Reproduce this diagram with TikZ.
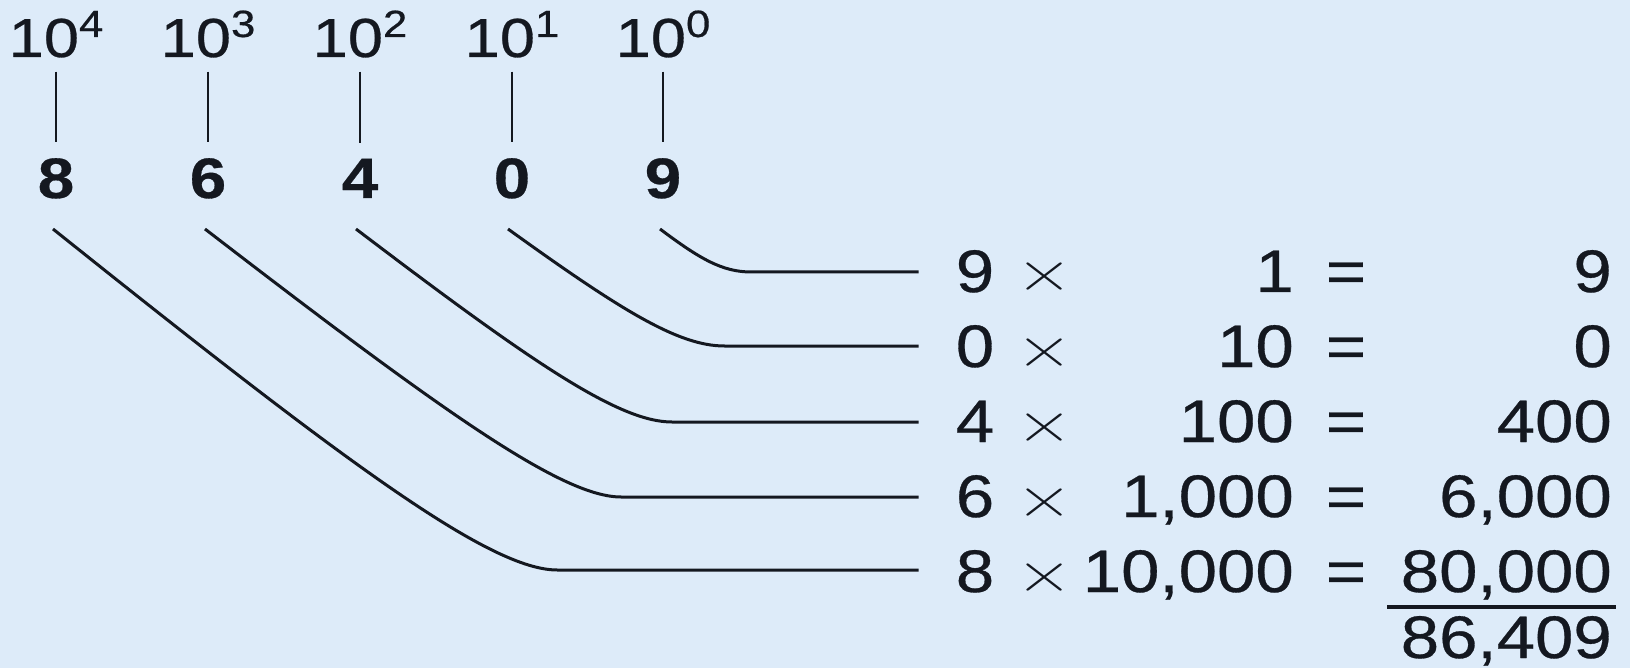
\documentclass[tikz,border=0pt]{standalone}
\usepackage{fontspec}
\usepackage{graphicx}
\usetikzlibrary{calc}
\newfontfamily\sansf[FakeStretch=1.15,FakeBold=0.5]{Liberation Sans}
\definecolor{bg}{RGB}{221,235,249}
\definecolor{ink}{RGB}{20,24,32}
\newcommand{\pw}[1]{10\raisebox{20pt}{\fontsize{38}{40}\selectfont #1}}
\newcommand{\mult}{\scalebox{1.3}[1]{\rmfamily ×}}
\tikzset{
  every node/.style={inner sep=0pt, text=ink},
  toplab/.style={anchor=base, font=\sansf\fontsize{55}{66}\selectfont, outer ysep=14pt},
  digitlab/.style={anchor=base, font=\sansf\bfseries\fontsize{57}{68}\selectfont, outer ysep=16pt},
  rowtxt/.style={anchor=base, font=\sansf\fontsize{60}{72}\selectfont},
  rowr/.style={anchor=base east, font=\sansf\fontsize{60}{72}\selectfont},
  conn/.style={draw=ink, line width=3pt},
}
% #1 start, #2 drop, #3 slope, #4 bend length, #5 target node
\newcommand{\drawbend}[5]{%
  \coordinate (#1k) at ($(#1)+(#2/#3,#2)$);
  \coordinate (#1e) at ($(#1k)+(#4,0)$);
  \draw[conn, shorten >=37pt] (#1) .. controls ($(#1)!0.7!(#1k)$) and ($(#1k)!0.15!(#1e)$) .. (#1e) -- (#1e -| #5.west);
}
\begin{document}
\begin{tikzpicture}[x=1pt,y=-1pt]
\fill[bg] (0,0) rectangle (1630,668);
\useasboundingbox (0,0) rectangle (1630,668);
% powers
\node[toplab] (p4) at (56,57) {\pw{4}};
\node[toplab] (p3) at (208,57) {\pw{3}};
\node[toplab] (p2) at (360,57) {\pw{2}};
\node[toplab] (p1) at (512,57) {\pw{1}};
\node[toplab] (p0) at (663,57) {\pw{0}};
% digits
\node[digitlab] (d8) at (56,198) {8};
\node[digitlab] (d6) at (208,198) {6};
\node[digitlab] (d4) at (360,198) {4};
\node[digitlab] (d0) at (512,198) {0};
\node[digitlab] (d9) at (663,198) {9};
\foreach \a/\b in {p4/d8,p3/d6,p2/d4,p1/d0,p0/d9} \draw[conn, line width=2.6pt] (\a) -- (\b);
% rows
\foreach \n/\y/\d/\m/\r in {1/292/9/1/9, 2/367/0/10/0, 3/442/4/100/400, 4/517/6/{1,000}/{6,000}, 5/592/8/{10,000}/{80,000}} {
  \node[rowtxt] (r\n a) at (975,\y) {\d};
  \node[rowtxt] (r\n x) at (1045,\y) {\mult};
  \node[rowr] (r\n m) at (1294,\y) {\m};
  \node[rowtxt] (r\n q) at (1346,\y) {=};
  \node[rowr] (r\n r) at (1612,\y) {\r};
}
\node[rowr] (tot) at (1612,658) {86,409};
\draw[ink, line width=4pt] (1387,607) -- (1616,607);
% curves
\coordinate (s9) at ([xshift=-3pt,yshift=-31pt]d9.base);
\coordinate (s0) at ([xshift=-4pt,yshift=-31pt]d0.base);
\coordinate (s4) at ([xshift=-4pt,yshift=-31pt]d4.base);
\coordinate (s6) at ([xshift=-3pt,yshift=-31pt]d6.base);
\coordinate (s8) at ([xshift=-3pt,yshift=-31pt]d8.base);
\drawbend{s9}{43}{0.75}{34}{r1a}
\drawbend{s0}{117}{0.72}{54}{r2a}
\drawbend{s4}{193}{0.76}{62}{r3a}
\drawbend{s6}{268}{0.77}{68}{r4a}
\drawbend{s8}{341}{0.80}{78}{r5a}
\end{tikzpicture}
\end{document}
